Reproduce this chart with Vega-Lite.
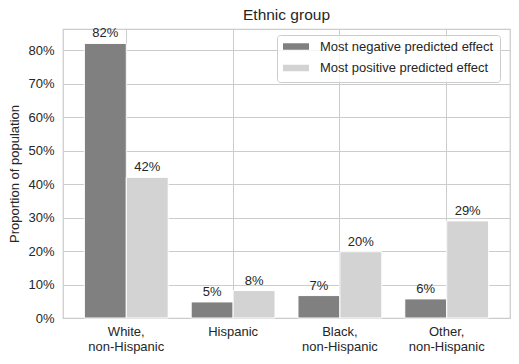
{
  "$schema": "https://vega.github.io/schema/vega-lite/v6.json",
  "autosize": {"type": "none"},
  "padding": {"left": 63, "top": 29, "right": 9, "bottom": 46},
  "width": 447,
  "height": 289,
  "background": "white",
  "title": {"text": "Ethnic group", "font": "Liberation Sans", "fontSize": 15.5, "fontWeight": "normal", "color": "#262626", "offset": 4, "anchor": "middle"},
  "data": {
    "values": [
      {"group": "White, non-Hispanic", "effect": "Most negative predicted effect", "share": 0.82},
      {"group": "White, non-Hispanic", "effect": "Most positive predicted effect", "share": 0.42},
      {"group": "Hispanic", "effect": "Most negative predicted effect", "share": 0.048},
      {"group": "Hispanic", "effect": "Most positive predicted effect", "share": 0.082},
      {"group": "Black, non-Hispanic", "effect": "Most negative predicted effect", "share": 0.067},
      {"group": "Black, non-Hispanic", "effect": "Most positive predicted effect", "share": 0.198},
      {"group": "Other, non-Hispanic", "effect": "Most negative predicted effect", "share": 0.057},
      {"group": "Other, non-Hispanic", "effect": "Most positive predicted effect", "share": 0.29}
    ]
  },
  "encoding": {
    "x": {
      "field": "group", "type": "nominal",
      "sort": ["White, non-Hispanic", "Hispanic", "Black, non-Hispanic", "Other, non-Hispanic"],
      "scale": {"paddingInner": 0.215, "paddingOuter": 0.2},
      "axis": {
        "title": null, "labelAngle": 0, "grid": true, "bandPosition": 0.5, "ticks": false, "domain": false,
        "labelExpr": "split(replace(datum.label, ', ', ',|'), '|')",
        "labelLineHeight": 15, "labelPadding": 7, "labelBaseline": "top"
      }
    },
    "xOffset": {
      "field": "effect", "type": "nominal",
      "sort": ["Most negative predicted effect", "Most positive predicted effect"],
      "scale": {"paddingInner": 0, "paddingOuter": 0}
    },
    "y": {
      "field": "share", "type": "quantitative",
      "scale": {"domain": [0, 0.863], "nice": false, "zero": true},
      "axis": {
        "title": "Proportion of population", "format": ".0%", "values": [0, 0.1, 0.2, 0.3, 0.4, 0.5, 0.6, 0.7, 0.8],
        "ticks": false, "domain": false, "labelPadding": 9, "titlePadding": 6
      }
    }
  },
  "layer": [
    {
      "mark": {"type": "bar", "stroke": "white", "strokeWidth": 1},
      "encoding": {
        "color": {
          "field": "effect", "type": "nominal",
          "scale": {"domain": ["Most negative predicted effect", "Most positive predicted effect"], "range": ["#808080", "#d3d3d3"]},
          "legend": {
            "title": null, "orient": "none", "legendX": 214, "legendY": 6,
            "symbolType": "M-1,-0.25H1V0.25H-1Z", "symbolSize": 676, "symbolStrokeWidth": 0,
            "clipHeight": 11, "rowPadding": 7.6, "padding": 6, "labelOffset": 11,
            "strokeColor": "#cccccc", "fillColor": "rgba(255,255,255,0.8)", "cornerRadius": 3,
            "labelFont": "Liberation Sans", "labelFontSize": 13, "labelColor": "#262626", "labelLimit": 300
          }
        }
      }
    },
    {
      "mark": {"type": "text", "baseline": "bottom", "dy": -3, "font": "Liberation Sans", "fontSize": 13, "color": "#262626"},
      "encoding": {
        "text": {"field": "share", "type": "quantitative", "format": ".0%"}
      }
    }
  ],
  "config": {
    "view": {"stroke": "#cccccc", "strokeWidth": 1.25},
    "axis": {
      "gridColor": "#cccccc", "gridWidth": 1,
      "labelFont": "Liberation Sans", "labelFontSize": 13, "labelColor": "#262626",
      "titleFont": "Liberation Sans", "titleFontSize": 13, "titleFontWeight": "normal", "titleColor": "#262626"
    }
  }
}
